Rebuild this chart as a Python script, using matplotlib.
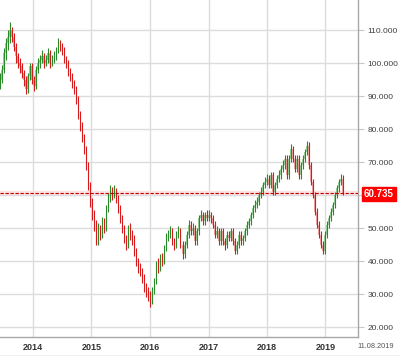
import pandas as pd
import matplotlib
matplotlib.use("Agg")
import matplotlib.pyplot as plt
import matplotlib.dates as mdates
from matplotlib.lines import Line2D

############### DATA ###############

START, END = "2013-06-09", "2019-04-20"
LAST_PRICE = 60.735
FIRST_OPEN = 93

CLOSE = [95, 98, 103, 106, 108, 110, 108, 105, 102, 100, 99, 97, 95, 92, 96, 99, 95, 93, 98, 100,
         101, 102, 100, 101, 103, 100, 101, 102, 104, 106, 105, 104, 101, 100, 97, 96, 94, 92, 89, 84,
         81, 77, 74, 69, 63, 58, 54, 51, 46, 50, 48, 52, 50, 56, 59, 61, 60, 61, 59, 56,
         53, 50, 47, 45, 50, 48, 47, 43, 40, 38, 37, 35, 32, 31, 30, 28, 31, 34, 39, 38,
         41, 40, 44, 47, 48, 49, 46, 45, 48, 49, 45, 42, 45, 48, 51, 49, 50, 46, 49, 53,
         54, 52, 54, 53, 54, 53, 51, 48, 49, 46, 49, 46, 45, 48, 47, 49, 46, 43, 45, 48,
         46, 47, 49, 51, 52, 54, 56, 57, 58, 60, 61, 63, 64, 65, 63, 66, 61, 63, 65, 66,
         68, 69, 71, 66, 71, 74, 71, 68, 71, 66, 69, 71, 73, 75, 69, 64, 60, 55, 51, 48,
         45, 43, 48, 51, 53, 55, 57, 60, 62, 64, 65, 60.7]

HIGH = [97, 99.5, 104.5, 107.5, 110, 112.5, 111, 109, 106, 103, 101.5, 100, 98, 96, 97, 100, 100, 96, 99, 101.5,
        102.5, 104, 103, 102.5, 104.5, 104, 102.5, 103.5, 105, 107.5, 107, 106, 105, 102, 101, 98.5, 97, 95, 93, 90,
        85.5, 82, 78.5, 75, 70, 64, 59, 55.5, 52.5, 51.5, 51, 53.5, 53, 57, 60.5, 63, 62.5, 63, 62, 60,
        57, 54, 51, 48, 51, 51.5, 49.5, 48, 44, 41, 39.5, 38, 36, 33.5, 32, 31, 32, 35, 40, 41,
        42, 42.5, 45, 48.5, 49.5, 50.5, 50, 47, 49, 50.5, 50, 46, 46, 49, 52.5, 52, 51.5, 51, 50, 54,
        55.5, 55, 55, 55.5, 55.5, 55, 54, 52, 50.5, 50, 50, 50, 47, 49, 49, 50, 50, 47, 46, 49,
        49, 48, 50, 52, 53, 55, 57, 58.5, 59.5, 61, 62.5, 64, 65.5, 66.5, 66, 67, 67, 64, 66, 67.5,
        69, 70.5, 72, 72, 72, 75.5, 75, 72, 72, 72, 70, 72, 74, 76.5, 76, 70, 65, 61, 56, 52,
        49, 46, 49, 52, 54, 56, 58, 61, 63, 65, 66.5, 66]

LOW = [92, 94, 97, 101, 104, 106, 106.5, 103.5, 100, 98.5, 97, 95.5, 93, 90.5, 91, 95, 93.5, 91.5, 92, 97,
       98.5, 100, 98.5, 99, 100, 98.5, 99, 100, 101, 103, 103.5, 102.5, 100, 98.5, 96, 94.5, 92.5, 90.5, 87.5, 83,
       79.5, 76, 72.5, 67.5, 61.5, 56.5, 52.5, 49, 45, 45, 46.5, 47, 48.5, 49, 55, 58, 58.5, 59, 57.5, 54.5,
       51.5, 48.5, 45.5, 43.5, 44, 46.5, 45, 41.5, 38.5, 36.5, 35.5, 33.5, 30.5, 29, 28, 26, 27, 30, 33, 36.5,
       37, 38.5, 39, 43, 46, 47, 45, 43.5, 44, 47, 44, 40.5, 41, 44, 47, 48, 48, 45, 45, 48,
       52, 51, 51, 52, 52, 51.5, 50, 47, 47, 45, 45, 45, 43.5, 44, 46, 46, 45, 42, 42, 44,
       45, 45, 46, 48, 50, 51, 53, 55, 56, 57, 59, 60, 62, 63, 62, 62, 60, 60, 62, 64,
       65, 67, 68, 65, 65, 70, 70, 67, 67, 65, 65, 68, 70, 72, 68, 63, 59, 54, 50, 47,
       44, 42, 42, 47, 50, 52, 54, 56, 59, 61, 63, 60]

YEARS = [2014, 2015, 2016, 2017, 2018, 2019]
PRICE_LEVELS = [20, 30, 40, 50, 60, 70, 80, 90, 100, 110]
DATE_LABEL = "11.08.2019"

############### PLOT ###############

DATES = pd.date_range(START, END, periods=len(CLOSE))
OPEN = [FIRST_OPEN] + CLOSE[:-1]

fig = plt.figure(figsize=(4.0, 3.56), dpi=100)
ax = fig.add_axes([0, 19 / 356, 358 / 400, 337 / 356])

x = mdates.date2num(DATES)
for xi, o, c, h, l in zip(x, OPEN, CLOSE, HIGH, LOW):
    up = c >= o
    body = "#96d296" if up else "#f5a3a3"
    wick = "#2a8a2a" if up else "#d41a1a"
    ax.bar(xi, max(abs(c - o), 0.3), bottom=min(o, c), width=8, color=body, linewidth=0, zorder=3)
    ax.vlines(xi, l, h, color=wick, linewidth=0.8, zorder=4)

# last price line
ax.axhline(LAST_PRICE, color="#fbe1e1", linewidth=3, zorder=2)
ax.axhline(LAST_PRICE, color="#c00000", linewidth=0.8, linestyle=(0, (3, 1.5)), zorder=5)

ax.set_xlim(mdates.datestr2num("2013-06-09"), mdates.datestr2num("2019-07-23"))
ax.set_ylim(17, 119.1)

ax.set_xticks([mdates.datestr2num(f"{y}-01-01") for y in YEARS])
ax.set_xticklabels([str(y) for y in YEARS])
ax.set_yticks(PRICE_LEVELS)
# the 60 level is hidden behind the last price tag
ax.set_yticklabels(["" if v == 60 else f"{v:.3f}" for v in PRICE_LEVELS])
ax.yaxis.tick_right()
ax.grid(True, color="#dcdcdc", linewidth=1.0, zorder=0)
ax.set_axisbelow(True)

for s in ["left", "top"]:
    ax.spines[s].set_visible(False)
for s in ["right", "bottom"]:
    ax.spines[s].set_color("#a8a8a8")
    ax.spines[s].set_linewidth(1.0)

ax.tick_params(axis="y", length=4, color="#c8c8c8", pad=3, labelsize=6, labelcolor="#404040")
ax.tick_params(axis="x", length=0, pad=4, labelsize=6.5, labelcolor="#333333")
for t in ax.get_yticklabels():
    t.set_family("Liberation Sans")
for t in ax.get_xticklabels():
    t.set_family("Liberation Sans")
    t.set_fontweight("bold")

# price tag on the right
fig.text(379 / 400, 1 - 194 / 356, f"{LAST_PRICE:.3f}", ha="center", va="center",
         fontsize=7, fontweight="bold", color="white", family="Liberation Sans",
         bbox=dict(boxstyle="square,pad=0.25", facecolor="#ff0000", edgecolor="#ff0000"))

fig.text(376 / 400, 1 - 346 / 356, DATE_LABEL, ha="center", va="center",
         fontsize=5.3, color="#555555", family="Liberation Sans")

fig.add_artist(Line2D([0, 1], [0.5 / 356, 0.5 / 356], color="#b0b0b0", linewidth=1.0))

fig.savefig("out.png", dpi=100)
